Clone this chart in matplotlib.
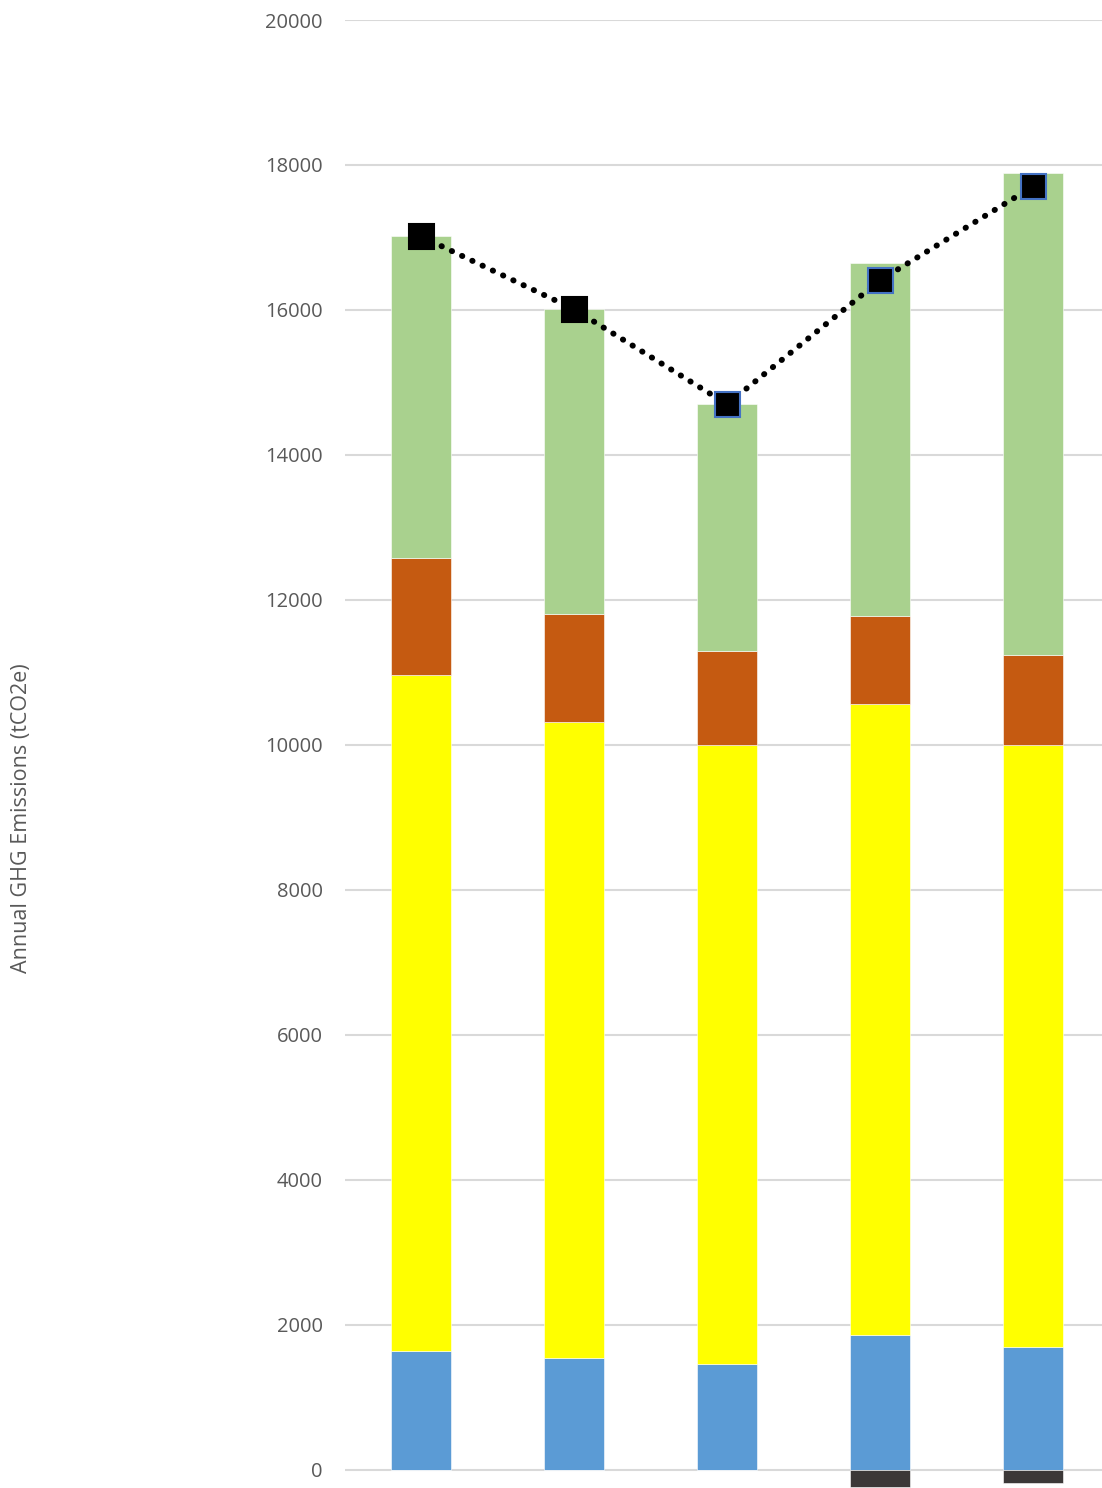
import matplotlib.pyplot as plt
import numpy as np

# values (tCO2e)
categories = ['A', 'B', 'C', 'D', 'E']
blue_vals = [1640, 1545, 1460, 1860, 1695]
yellow_vals = [9325, 8770, 8540, 8705, 8305]
orange_vals = [1610, 1490, 1295, 1210, 1240]
green_vals = [4440, 4205, 3405, 4870, 6645]
dark_vals = [0, 0, 0, -235, -180]
total_vals = [17015, 16010, 14700, 16410, 17705]
marker_edges = ['black', 'black', '#4472C4', '#4472C4', '#4472C4']

fig = plt.figure()
fig.set_size_inches(11.02, 14.88)
ax1 = fig.add_axes([345 / 1102, 0, 1 - 345 / 1102, 1 - 20 / 1488])

x = np.arange(len(categories))
w = 0.39
bottom = np.zeros(len(categories))
for vals, col in [(blue_vals, '#5B9BD5'), (yellow_vals, '#FFFF00'),
                  (orange_vals, '#C55A11'), (green_vals, '#A9D18E')]:
    ax1.bar(x, vals, w, bottom=bottom, color=col, edgecolor='white', linewidth=0.4, zorder=2)
    bottom += np.array(vals)
ax1.bar(x, dark_vals, w, color='#3B3838', edgecolor='white', linewidth=0.4, zorder=2)

# total line with dotted style
ax1.plot(x, total_vals, color='black', linestyle=(0, (0.05, 1.85)), linewidth=4.3,
         dash_capstyle='round', zorder=3)
for i in range(len(x)):
    ax1.plot(x[i], total_vals[i], marker='s', markersize=18, color='black',
             markeredgecolor=marker_edges[i], markeredgewidth=1.5, zorder=4)

ax1.set_ylim(-250, 20000)
ax1.set_xlim(-0.497, 4.45)
ax1.set_yticks(range(0, 20001, 2000))
ax1.set_xticks([])
ax1.grid(axis='y', color='#D9D9D9', linewidth=1.5, zorder=0)
ax1.set_axisbelow(True)
for s in ax1.spines.values():
    s.set_visible(False)
ax1.tick_params(axis='y', length=0, pad=16, labelsize=14.5, labelcolor='#595959')
for lbl in ax1.get_yticklabels():
    lbl.set_family('Open Sans')

fig.text(22 / 1102, 1 - 818 / 1488, 'Annual GHG Emissions (tCO2e)', rotation=90,
         ha='center', va='center', fontsize=15.5, color='#595959', family='Open Sans')

fig.savefig('out.png', dpi=100)
